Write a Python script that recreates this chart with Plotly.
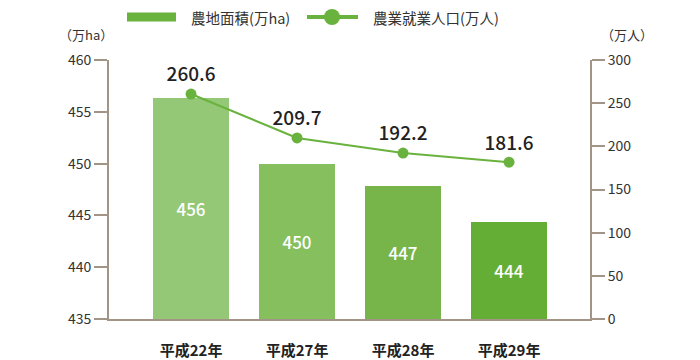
import plotly.graph_objects as go

categories = ["平成22年", "平成27年", "平成28年", "平成29年"]
farmland = [456.3, 450.0, 447.8, 444.4]          # 万ha
farmland_labels = ["456", "450", "447", "444"]
workers = [260.6, 209.7, 192.2, 181.6]           # 万人
workers_labels = ["260.6", "209.7", "192.2", "181.6"]
bar_colors = ["#94c876", "#86bf5d", "#77b54a", "#65ae35"]
left_ticks = [435, 440, 445, 450, 455, 460]
right_ticks = [0, 50, 100, 150, 200, 250, 300]

FONT = "Noto Sans CJK JP, Noto Sans, sans-serif"
AXIS = "#a39488"
LINE = "#6ab23e"

# target page-pixel geometry (page has an 8px body margin)
OFF = 8
PW, PH = 700, 360
L, R, T, B = 109, 590, 60, 319
W, H = PW - OFF, PH - OFF

def px(x):
    return (x - L) / (R - L)

def py(y):
    return (B - y) / (B - T)

xs = list(range(len(categories)))
base_val = left_ticks[0]
bar_heights = [v - base_val for v in farmland]

fig = go.Figure()
fig.add_trace(go.Bar(
    x=xs, y=bar_heights, base=base_val, width=0.717,
    marker=dict(color=bar_colors, line=dict(width=0)),
    text=farmland_labels, textposition="inside", insidetextanchor="middle",
    textfont=dict(color="white", size=17, family=FONT, weight=500),
    showlegend=False,
))
fig.add_trace(go.Scatter(
    x=xs, y=workers, yaxis="y2", mode="lines+markers+text",
    line=dict(color=LINE, width=2),
    marker=dict(color=LINE, size=11),
    text=workers_labels, textposition="top center",
    textfont=dict(color="#222222", size=19, family=FONT, weight=500),
    showlegend=False, cliponaxis=False,
))

fig.update_layout(
    width=W, height=H,
    margin=dict(l=L - OFF, r=PW - R, t=T - OFF, b=PH - B, autoexpand=False),
    plot_bgcolor="white", paper_bgcolor="white",
    font=dict(family=FONT, color="#333333", size=14),
    bargap=0,
    xaxis=dict(
        range=[-0.774, 3.764], tickmode="array", tickvals=xs, ticktext=categories,
        showline=True, linecolor=AXIS, linewidth=2, showgrid=False, zeroline=False,
        ticks="", ticklabelstandoff=17, automargin=False,
        tickfont=dict(size=15, color="#222222", family=FONT, weight="bold"),
    ),
    yaxis=dict(
        range=[435, 460], tickvals=left_ticks, showgrid=False, zeroline=False,
        showline=True, linecolor=AXIS, linewidth=2, automargin=False,
        ticks="outside", ticklen=13, tickwidth=2, tickcolor=AXIS,
        tickfont=dict(size=14, color="#333333"),
    ),
    yaxis2=dict(
        range=[0, 300], tickvals=right_ticks, overlaying="y", side="right",
        showgrid=False, zeroline=False, automargin=False,
        showline=True, linecolor=AXIS, linewidth=2,
        ticks="outside", ticklen=13, tickwidth=2, tickcolor=AXIS,
        tickfont=dict(size=14, color="#333333"),
    ),
)

# axis unit titles
fig.add_annotation(text="（万ha）", xref="paper", yref="paper", x=px(86), y=py(35),
                   showarrow=False, font=dict(size=13, color="#333333"), xanchor="center", yanchor="middle")
fig.add_annotation(text="（万人）", xref="paper", yref="paper", x=px(627), y=py(35),
                   showarrow=False, font=dict(size=13, color="#333333"), xanchor="center", yanchor="middle")

# legend (drawn manually)
ly = 17
fig.add_shape(type="rect", xref="paper", yref="paper",
              x0=px(127), x1=px(176), y0=py(ly + 4.5), y1=py(ly - 4.5),
              fillcolor=LINE, line=dict(width=0), layer="above")
fig.add_annotation(text="農地面積(万ha)", xref="paper", yref="paper", x=px(189), y=py(ly),
                   showarrow=False, xanchor="left", yanchor="middle",
                   font=dict(size=14.5, color="#333333"))
fig.add_shape(type="line", xref="paper", yref="paper",
              x0=px(307), x1=px(358), y0=py(ly), y1=py(ly),
              line=dict(color=LINE, width=4))
fig.add_shape(type="circle", xref="paper", yref="paper",
              x0=px(324), x1=px(340), y0=py(ly + 8), y1=py(ly - 8),
              fillcolor=LINE, line=dict(width=0))
fig.add_annotation(text="農業就業人口(万人)", xref="paper", yref="paper", x=px(371), y=py(ly),
                   showarrow=False, xanchor="left", yanchor="middle",
                   font=dict(size=14.5, color="#333333"))

fig.write_html("out.html")
